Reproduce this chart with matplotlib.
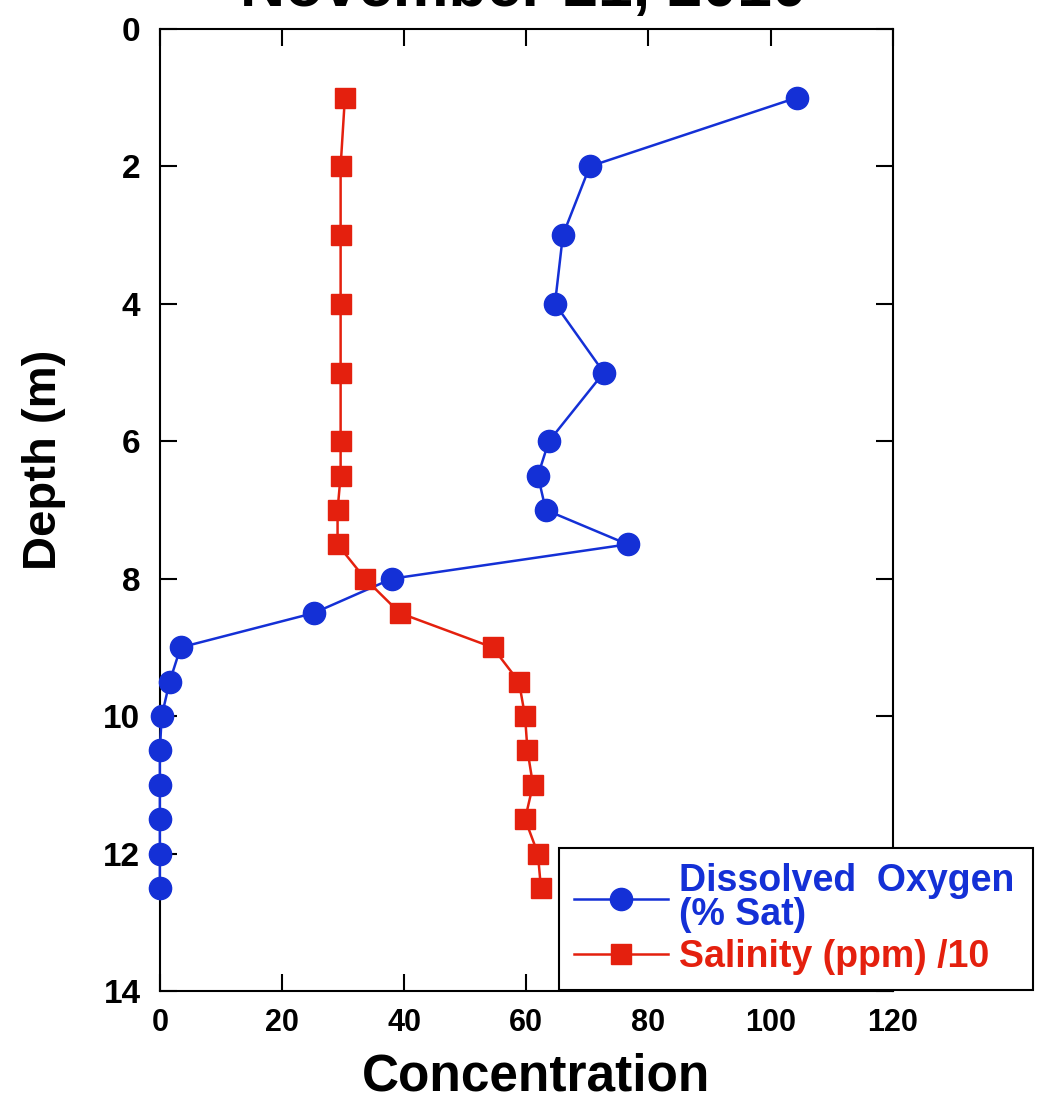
import matplotlib
matplotlib.use("Agg")
import matplotlib.pyplot as plt

plt.rcParams["font.family"] = ["Liberation Sans", "DejaVu Sans"]
plt.rcParams["font.weight"] = "bold"

depth_do = [1, 2, 3, 4, 5, 6, 6.5, 7, 7.5, 8, 8.5, 9, 9.5, 10, 10.5, 11, 11.5, 12, 12.5]
oxygen = [104.3, 70.4, 66.0, 64.7, 72.7, 63.7, 61.9, 63.2, 76.6, 38.0, 25.2, 3.4, 1.6, 0.3, 0.0, 0.0, 0.0, 0.0, 0.0]

depth_sal = [1, 2, 3, 4, 5, 6, 6.5, 7, 7.5, 8, 8.5, 9, 9.5, 10, 10.5, 11, 11.5, 12, 12.5]
salinity = [30.3, 29.6, 29.6, 29.6, 29.6, 29.6, 29.6, 29.1, 29.1, 33.6, 39.3, 54.5, 58.8, 59.8, 60.2, 61.1, 59.8, 61.9, 62.4]

xticks = [0, 20, 40, 60, 80, 100, 120]
yticks = [0, 2, 4, 6, 8, 10, 12, 14]

blue = "#1430d6"
red = "#e4200e"

fig = plt.figure(figsize=(10.38, 11.01), dpi=100)
ax = fig.add_axes([0.154, 0.0999, 0.706, 0.8738])

ax.plot(oxygen, depth_do, "-o", color=blue, lw=1.8, ms=16, label="Dissolved  Oxygen\n(% Sat)", clip_on=False, zorder=3)
ax.plot(salinity, depth_sal, "-s", color=red, lw=1.8, ms=14, label="Salinity (ppm) /10", clip_on=False, zorder=3)

ax.set_xlim(0, 120)
ax.set_ylim(14, 0)
ax.set_xticks(xticks)
ax.set_yticks(yticks)
ax.tick_params(direction="in", length=12, width=1.5, top=True, right=True, labelsize=24, pad=14)
ax.tick_params(axis="x", labelsize=22, pad=12)
for s in ax.spines.values():
    s.set_linewidth(1.5)

ax.set_xlabel("Concentration", fontsize=37, fontweight="bold")
ax.xaxis.set_label_coords(0.514, -0.064)
ax.set_ylabel("Depth (m)", fontsize=34, fontweight="bold")
ax.yaxis.set_label_coords(-0.128, 0.552)

fig.text(0.504, 1 - 6 / 1101, "November 21, 2010", ha="center", va="baseline",
         fontsize=45, fontweight="bold")

leg = ax.legend(loc="upper left", bbox_to_anchor=(0.539, 0.105, 0.456, 0.125),
                bbox_transform=fig.transFigure, mode="expand", fontsize=27,
                borderaxespad=0, fancybox=False, framealpha=1, edgecolor="black",
                handlelength=2.5, borderpad=0.4, labelspacing=0.15, handletextpad=0.3)
leg.get_frame().set_linewidth(1.5)
for txt, c in zip(leg.get_texts(), [blue, red]):
    txt.set_color(c)
    txt.set_fontweight("bold")
    txt.set_linespacing(0.95)

fig.savefig("out.png", dpi=100)
